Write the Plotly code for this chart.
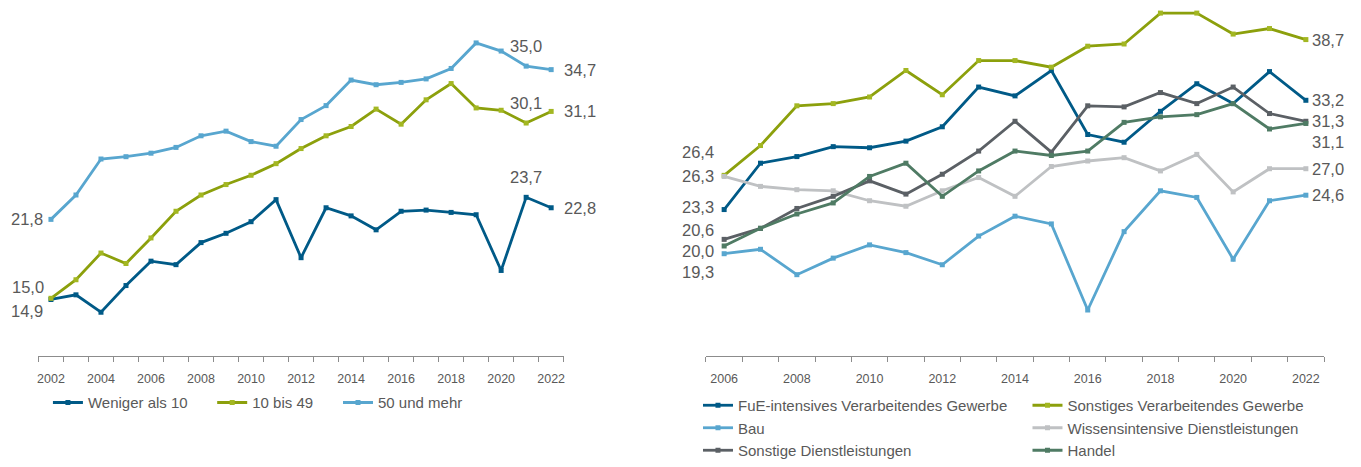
import plotly.graph_objects as go

# ---------------- data ----------------
years_left = list(range(2002, 2023))
weniger_als_10 = [14.9, 15.3, 13.8, 16.1, 18.2, 17.9, 19.8, 20.6, 21.6, 23.5, 18.5,
                  22.8, 22.1, 20.9, 22.5, 22.6, 22.4, 22.2, 17.4, 23.7, 22.8]
bis_10_49 = [15.0, 16.6, 18.9, 18.0, 20.2, 22.5, 23.9, 24.8, 25.6, 26.6, 27.9,
             29.0, 29.8, 31.3, 30.0, 32.1, 33.5, 31.4, 31.2, 30.1, 31.1]
und_mehr_50 = [21.8, 23.9, 27.0, 27.2, 27.5, 28.0, 29.0, 29.4, 28.5, 28.1, 30.4,
               31.6, 33.8, 33.4, 33.6, 33.9, 34.8, 37.0, 36.3, 35.0, 34.7]

years_right = list(range(2006, 2023))
fue_verarb = [23.3, 27.5, 28.1, 29.0, 28.9, 29.5, 30.8, 34.4, 33.6, 35.9, 30.1,
              29.4, 32.2, 34.7, 32.9, 35.8, 33.2]
sonst_verarb = [26.4, 29.1, 32.7, 32.9, 33.5, 35.9, 33.7, 36.8, 36.8, 36.2, 38.1,
                38.3, 41.1, 41.1, 39.2, 39.7, 38.7]
bau = [19.3, 19.7, 17.4, 18.9, 20.1, 19.4, 18.3, 20.9, 22.7, 22.0, 14.2,
       21.3, 25.0, 24.4, 18.8, 24.1, 24.6]
wissens_dl = [26.3, 25.4, 25.1, 25.0, 24.1, 23.6, 25.0, 26.2, 24.5, 27.2, 27.7,
              28.0, 26.8, 28.3, 24.9, 27.0, 27.0]
sonst_dl = [20.6, 21.6, 23.4, 24.5, 25.9, 24.7, 26.5, 28.6, 31.3, 28.5, 32.7,
            32.6, 33.9, 32.9, 34.4, 32.0, 31.3]
handel = [20.0, 21.6, 22.9, 23.9, 26.3, 27.5, 24.5, 26.8, 28.6, 28.2, 28.6,
          31.2, 31.7, 31.9, 32.9, 30.6, 31.1]

tick_years_left = list(range(2002, 2023, 2))
tick_years_right = list(range(2006, 2023, 2))

# ---------------- style ----------------
FONT = "Arial, Liberation Sans, sans-serif"
TXT = "#595959"
C_DARKBLUE = "#005A87"
C_OLIVE = "#8CA00C"
C_OLIVE_M = "#A3B722"
C_LIGHTBLUE = "#58A6CF"
C_LIGHTGRAY = "#BFC1C3"
C_DARKGRAY = "#5B6065"
C_GREENGRAY = "#4F7B64"
AXIS = "#8C8C8C"

W, H = 1361, 467


def px(p):
    return p / W


def py(p):
    return 1 - p / H


def fmt(v):
    return f"{v:.1f}".replace(".", ",")


fig = go.Figure()


def add(x, y, name, color, xa, ya, legend, mcolor=None):
    fig.add_trace(go.Scatter(
        x=x, y=y, name=name, mode="lines+markers",
        line=dict(color=color, width=2.8),
        marker=dict(symbol="square", size=5, color=mcolor or color),
        xaxis=xa, yaxis=ya, legend=legend, hoverinfo="skip", cliponaxis=False))


add(years_left, weniger_als_10, "Weniger als 10", C_DARKBLUE, "x", "y", "legend")
add(years_left, bis_10_49, "10 bis 49", C_OLIVE, "x", "y", "legend4", C_OLIVE_M)
add(years_left, und_mehr_50, "50 und mehr", C_LIGHTBLUE, "x", "y", "legend5")

add(years_right, fue_verarb, "FuE-intensives Verarbeitendes Gewerbe", C_DARKBLUE, "x2", "y2", "legend2")
add(years_right, sonst_verarb, "Sonstiges Verarbeitendes Gewerbe", C_OLIVE, "x2", "y2", "legend3", C_OLIVE_M)
add(years_right, bau, "Bau", C_LIGHTBLUE, "x2", "y2", "legend2")
add(years_right, wissens_dl, "Wissensintensive Dienstleistungen", C_LIGHTGRAY, "x2", "y2", "legend3")
add(years_right, sonst_dl, "Sonstige Dienstleistungen", C_DARKGRAY, "x2", "y2", "legend2")
add(years_right, handel, "Handel", C_GREENGRAY, "x2", "y2", "legend3")

# ---------------- value labels ----------------
annotations = []


def label(xv, yv, xa, ya, xanchor, xshift, yshift):
    annotations.append(dict(
        x=xv, y=yv, xref=xa, yref=ya, text=fmt(yv), showarrow=False,
        xanchor=xanchor, yanchor="middle", xshift=xshift, yshift=yshift,
        font=dict(family=FONT, size=16.5, color=TXT)))


# left chart: first year, 2021 and last year
label(years_left[0], und_mehr_50[0], "x", "y", "right", -6, 0)
label(years_left[0], bis_10_49[0], "x", "y", "right", -5, 11)
label(years_left[0], weniger_als_10[0], "x", "y", "right", -6, -12)
for series in (und_mehr_50, bis_10_49, weniger_als_10):
    label(years_left[-2], series[-2], "x", "y", "center", 0, 20)
    label(years_left[-1], series[-1], "x", "y", "left", 11, 0)

# right chart: first and last year
first_shift = {"sv": 23, "wd": 0, "fue": 3, "sd": 9, "ha": -5, "bau": -18}
last_shift = {"sv": 0, "fue": 0, "sd": 0, "ha": -19, "wd": 0, "bau": 0}
right_series = {"fue": fue_verarb, "sv": sonst_verarb, "bau": bau,
                "wd": wissens_dl, "sd": sonst_dl, "ha": handel}
for key, series in right_series.items():
    label(years_right[0], series[0], "x2", "y2", "right", -8, first_shift[key])
    label(years_right[-1], series[-1], "x2", "y2", "left", 4, last_shift[key])

# ---------------- axes ----------------
plot_bottom = 361

common_x = dict(
    showgrid=False, zeroline=False, showline=True, linecolor=AXIS, linewidth=1,
    ticks="", tickfont=dict(family=FONT, size=12.5, color=TXT), ticklabelstandoff=11,
    minor=dict(ticks="outside", dtick=1, tick0=2001.5, ticklen=5, tickcolor=AXIS, tickwidth=1),
    fixedrange=True,
)
common_y = dict(visible=False, showgrid=False, zeroline=False, fixedrange=True)


def legend_at(xpix, ypix, orientation="v"):
    return dict(orientation=orientation, x=px(xpix), xanchor="left", y=py(ypix), yanchor="middle",
                font=dict(family=FONT, size=15, color=TXT), bgcolor="rgba(0,0,0,0)",
                tracegroupgap=0)


fig.update_layout(
    width=W, height=H,
    margin=dict(l=0, r=0, t=0, b=0),
    paper_bgcolor="white", plot_bgcolor="white",
    font=dict(family=FONT, color=TXT),
    xaxis=dict(domain=[px(37.5), px(563.5)], range=[2001.5, 2022.5],
               tickvals=tick_years_left, anchor="y", **common_x),
    yaxis=dict(domain=[py(plot_bottom), py(8.2)], range=[10, 40], anchor="x", **common_y),
    xaxis2=dict(domain=[px(706), px(1325)], range=[2005.5, 2022.5],
                tickvals=tick_years_right, anchor="y2", **common_x),
    yaxis2=dict(domain=[py(plot_bottom), py(3.2)], range=[10, 42], anchor="x2", **common_y),
    legend=legend_at(47, 408, "h"),
    legend4=legend_at(211.5, 408, "h"),
    legend5=legend_at(337.5, 408, "h"),
    legend2=legend_at(698, 434),
    legend3=legend_at(1028, 434),
    annotations=annotations,
    showlegend=True,
)

# remove the browser's default 8px body margin so the figure sits at the page origin
fig.write_html("out.html", config={"displayModeBar": False},
               post_script="document.body.style.margin='0px';")
